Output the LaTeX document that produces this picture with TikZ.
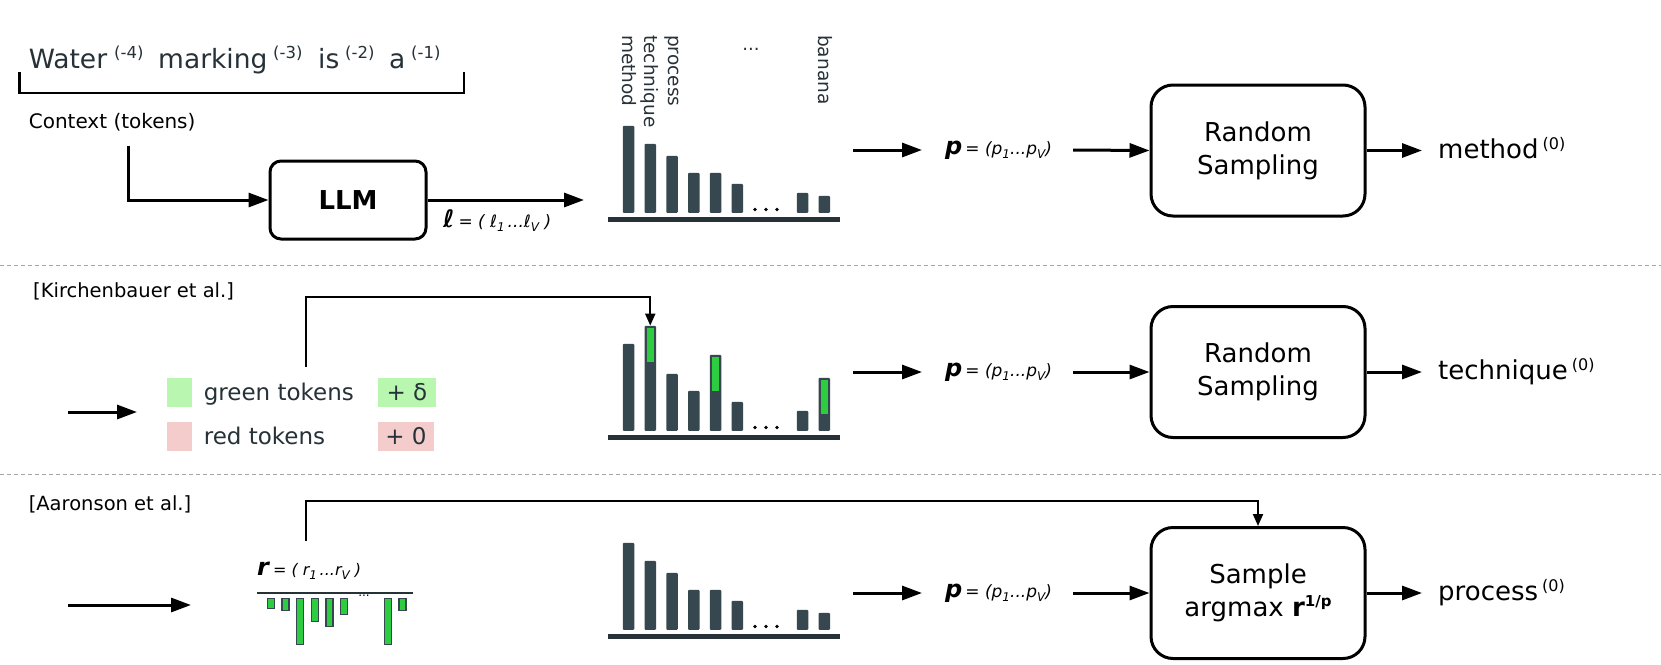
\documentclass[tikz,border=0pt]{standalone}
\usepackage{fontspec}
\setmainfont{DejaVu Sans}
\usetikzlibrary{arrows.meta}
\definecolor{barc}{HTML}{37474F}
\definecolor{basec}{HTML}{263238}
\definecolor{grn}{HTML}{2ECC40}
\definecolor{lgrn}{HTML}{B9F6B0}
\definecolor{lred}{HTML}{F4CCCC}
\definecolor{txt}{HTML}{263238}
\newcommand\fs[1]{\fontsize{#1}{#1}\selectfont}
\newcommand\sbx[1]{\raisebox{-4pt}{\fontsize{12}{12}\selectfont\itshape #1}}
\newcommand\wsup[2]{#1\hspace{4pt}\raisebox{9pt}{\fs{16}#2}}
\begin{document}
\begin{tikzpicture}[x=1pt,y=-1pt,
  arr/.style={line width=3,-{Triangle[length=20,width=14]}},
  tarr/.style={line width=2,-{Triangle[length=12,width=10]}},
  sbox/.style={draw,line width=3,rounded corners=22,minimum width=214,minimum height=131,inner sep=0,align=center,font=\fontsize{26}{33}\selectfont},
  lbox/.style={draw,line width=3,rounded corners=11,minimum width=156,minimum height=78,inner sep=0,font=\fs{26}\bfseries},
  lbl/.style={inner sep=0,anchor=base west},
  bar/.style={fill=barc,draw=none,inner sep=0,minimum width=11.5,rounded corners=1,anchor=south},
  rbar/.style={fill=grn,draw=barc,line width=1.5,inner sep=0,minimum width=7,anchor=north},
  vlab/.style={rotate=-90,anchor=west,inner sep=0,font=\fs{18.5},text=txt},
  sep/.style={gray!70,line width=1,dash pattern=on 4pt off 3pt},
  sq/.style={inner sep=0,minimum width=25,minimum height=29},
  dot/.style={fill=black,circle,inner sep=0,minimum size=3.6}
]
\useasboundingbox (0,0) rectangle (1661,664);
\fill[white] (0,0) rectangle (1661,664);

% separators
\draw[sep] (0,265) -- (1661,265);
\draw[sep] (0,474) -- (1661,474);

% ---------- Row 1 ----------
\node[lbl,font=\fs{26.5},text=txt] (w1) at (28.6,68) {Water};
\node[lbl,font=\fs{16.5},text=txt] (s1) at (114,58) {(-4)};
\node[lbl,font=\fs{26.5},text=txt] (w2) at (158,68) {marking};
\node[lbl,font=\fs{16.5},text=txt] (s2) at (273,58) {(-3)};
\node[lbl,font=\fs{26.5},text=txt] (w3) at (318,68) {is};
\node[lbl,font=\fs{16.5},text=txt] (s3) at (345,58) {(-2)};
\node[lbl,font=\fs{26.5},text=txt] (w4) at (389,68) {a};
\node[lbl,font=\fs{16.5},text=txt] (s4) at (411,58) {(-1)};
\draw[line width=2.8] (19.6,72) -- (19.6,93) -- (464,93) -- (464,72);

\node[lbl,font=\fs{20}] (ctx) at (28.6,128) {Context (tokens)};
\coordinate (ctxout) at (128.6,146);
\node[lbox] (llm) at (348,200) {LLM};
\draw[arr] (ctxout) |- (llm.west);
\coordinate (h1in) at (584,200);
\draw[arr] (llm.east) -- (h1in);
\node[inner sep=0,anchor=west] (ell) at (443,221) {{\fs{24}\bfseries\itshape ℓ}\hspace{4pt}{\fs{17}\itshape = ( ℓ\sbx{1}\,...ℓ\sbx{V} )}};

% histogram 1
\foreach \k/\h in {0/87,1/69,2/57,3/40,4/40,5/29,8/20,9/17}
  \node[bar,minimum height=\h] (t\k) at ({628.5+21.75*\k},213) {};
\fill[basec] (608,217) rectangle (840,222);
\foreach \x in {755,766,777} \node[dot] at (\x,209.5) {};
\node[vlab] (lm) at (629,35) {method};
\node[vlab] (lt) at (650,35) {technique};
\node[vlab] (lp) at (672,35) {process};
\node[inner sep=0,font=\fs{18},text=txt] (ld) at (751,49) {...};
\node[vlab] (lb) at (825,35) {banana};

\coordinate (h1out) at (853,150);
\node[inner sep=0,anchor=west] (p1) at (945,150) {{\fs{24}\bfseries\itshape p}\hspace{3pt}{\fs{17}\itshape = (p\sbx{1}...p\sbx{V})}};
\coordinate (p1in) at (922,150);
\coordinate (p1out) at (1073,150);
\node[sbox] (rs1) at (1258,150.5) {Random\\Sampling};
\draw[arr] (h1out) -- (p1in);
\draw[arr] (p1out) -- (rs1.west);
\coordinate (o1in) at (1422,150.5);
\draw[arr] (rs1.east) -- (o1in);
\node[lbl,font=\fs{26}] (o1) at (1438,158) {\wsup{method}{(0)}};

% ---------- Row 2 ----------
\node[lbl,font=\fs{19.5}] (kir) at (33,297) {[Kirchenbauer et al.]};
\coordinate (lst2) at (68,412);
\coordinate (lend2) at (137,412);
\draw[arr] (lst2) -- (lend2);
\node[sq,fill=lgrn] (gsq) at (179.5,392.5) {};
\node[sq,fill=lred] (rsq) at (179.5,436.5) {};
\node[lbl,font=\fs{23},text=txt] (gtx) at (203.6,400) {green tokens};
\node[lbl,font=\fs{23},text=txt] (rtx) at (203.6,444) {red tokens};
\node[sq,fill=lgrn,minimum width=58,font=\fs{23},text=txt] (gd) at (407,392.5) {+ δ};
\node[sq,fill=lred,minimum width=56,font=\fs{23},text=txt] (rd) at (406,436.5) {+ 0};

% histogram 2
\foreach \k/\h in {0/87,2/57,3/40,5/29,8/20}
  \node[bar,minimum height=\h] (m\k) at ({628.5+21.75*\k},431) {};
\foreach \k/\h in {1/69,4/40,9/17}{
  \node[bar,minimum height=\h+36] (m\k) at ({628.5+21.75*\k},431) {};
  \fill[grn] ({628.5+21.75*\k-3.75},{431-\h-34}) rectangle ({628.5+21.75*\k+3.75},{431-\h});
}
\fill[basec] (608,435) rectangle (840,440);
\foreach \x in {755,766,777} \node[dot] at (\x,427.5) {};

\coordinate (gt) at (306,367);
\coordinate (kc) at (306,297);
\draw[tarr] (gt) -- (kc) -| (m1.north);

\coordinate (h2out) at (853,372);
\node[inner sep=0,anchor=west] (p2) at (945,372) {{\fs{24}\bfseries\itshape p}\hspace{3pt}{\fs{17}\itshape = (p\sbx{1}...p\sbx{V})}};
\coordinate (p2in) at (922,372);
\coordinate (p2out) at (1073,372);
\node[sbox] (rs2) at (1258,372) {Random\\Sampling};
\draw[arr] (h2out) -- (p2in);
\draw[arr] (p2out) -- (rs2.west);
\coordinate (o2in) at (1422,372);
\draw[arr] (rs2.east) -- (o2in);
\node[lbl,font=\fs{26}] (o2) at (1438,379.5) {\wsup{technique}{(0)}};

% ---------- Row 3 ----------
\node[lbl,font=\fs{19.5}] (aar) at (28.6,510) {[Aaronson et al.]};
\coordinate (lst3) at (68,605);
\coordinate (lend3) at (191,605);
\draw[arr] (lst3) -- (lend3);

\node[inner sep=0,anchor=west] (rl) at (257,571) {{\fs{24}\bfseries\itshape r}\hspace{4pt}{\fs{16}\itshape = ( r\sbx{1}\,...r\sbx{V} )}};
\draw[basec,line width=2.5] (257,593) -- (413,593);
\foreach \i/\h in {0/10,1/12,2/46,3/23,4/28,5/16,8/46,9/12}
  \node[rbar,minimum height=\h] (r\i) at ({271+14.6*\i},597.5) {};
\node[inner sep=0,font=\fs{12}] (rdots) at (364,596) {...};

% histogram 3
\foreach \k/\h in {0/87,1/69,2/57,3/40,4/40,5/29,8/20,9/17}
  \node[bar,minimum height=\h] (b\k) at ({628.5+21.75*\k},630) {};
\fill[basec] (608,634) rectangle (840,639);
\foreach \x in {755,766,777} \node[dot] at (\x,626.5) {};

\node[sbox] (rs3) at (1258,593) {Sample\\argmax \textbf{r}\raisebox{10pt}{\fs{15}\bfseries 1/p}};
\coordinate (rt) at (306,541);
\coordinate (ac) at (306,501);
\draw[tarr] (rt) -- (ac) -| (rs3.north);

\coordinate (h3out) at (853,593);
\node[inner sep=0,anchor=west] (p3) at (945,593) {{\fs{24}\bfseries\itshape p}\hspace{3pt}{\fs{17}\itshape = (p\sbx{1}...p\sbx{V})}};
\coordinate (p3in) at (922,593);
\coordinate (p3out) at (1073,593);
\draw[arr] (h3out) -- (p3in);
\draw[arr] (p3out) -- (rs3.west);
\coordinate (o3in) at (1422,593);
\draw[arr] (rs3.east) -- (o3in);
\node[lbl,font=\fs{26}] (o3) at (1438,600.5) {\wsup{process}{(0)}};
\end{tikzpicture}
\end{document}
